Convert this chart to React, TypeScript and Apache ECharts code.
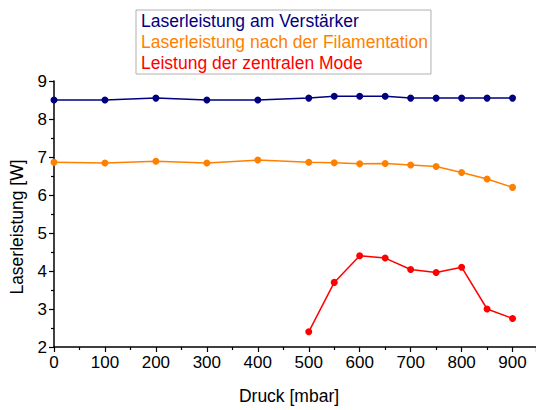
import React, { useEffect, useRef } from "react";
import * as echarts from "echarts";

// Pressure in mbar
const druck = [0, 100, 200, 300, 400, 500, 550, 600, 650, 700, 750, 800, 850, 900];
// Laser power at the amplifier [W]
const verstaerker = [8.5, 8.5, 8.55, 8.5, 8.5, 8.55, 8.6, 8.6, 8.6, 8.55, 8.55, 8.55, 8.55, 8.55];
// Laser power after filamentation [W]
const filamentation = [6.86, 6.84, 6.89, 6.84, 6.92, 6.86, 6.85, 6.82, 6.83, 6.79, 6.75, 6.59, 6.42, 6.2];
// Central mode power [W] (only measured from 500 mbar)
const druckMode = [500, 550, 600, 650, 700, 750, 800, 850, 900];
const zentraleMode = [2.4, 3.7, 4.4, 4.34, 4.04, 3.96, 4.1, 3.0, 2.75];

const seriesNames = [
  "Laserleistung am Verstärker",
  "Laserleistung nach der Filamentation",
  "Leistung der zentralen Mode",
];
const seriesColors = ["#000080", "#FF8000", "#FF0000"];

const FONT = "'Liberation Sans', Arial, sans-serif";

export default function App() {
  const ref = useRef<HTMLDivElement>(null);

  useEffect(() => {
    if (!ref.current) return;
    const chart = echarts.init(ref.current, undefined, { renderer: "svg" });
    const pair = (xs: number[], ys: number[]) => xs.map((x, i) => [x, ys[i]]);
    const dataSets = [
      pair(druck, verstaerker),
      pair(druck, filamentation),
      pair(druckMode, zentraleMode),
    ];

    chart.setOption({
      animation: false,
      backgroundColor: "#ffffff",
      textStyle: { fontFamily: FONT },
      grid: { left: 54, top: 81, width: 482, height: 273, containLabel: false },
      legend: {
        orient: "vertical",
        left: 136,
        top: 10,
        itemWidth: 0,
        itemHeight: 0,
        itemGap: 3,
        padding: [2, 3, 2, 0],
        borderColor: "#b0b0b0",
        borderWidth: 1,
        selectedMode: false,
        data: seriesNames.map((n, i) => ({
          name: n,
          icon: "rect",
          textStyle: { color: seriesColors[i], fontSize: 17.5, fontFamily: FONT },
        })),
      },
      xAxis: {
        type: "value",
        min: 0,
        max: 946,
        interval: 100,
        name: "Druck [mbar]",
        nameLocation: "middle",
        nameGap: 40,
        nameTextStyle: { fontSize: 17.5, color: "#000", fontFamily: FONT, padding: [0, 12, 0, 0] },
        axisLine: { onZero: false, lineStyle: { color: "#000", width: 1.5 } },
        axisTick: { inside: false, length: 5, lineStyle: { color: "#000", width: 1.2 } },
        minorTick: { show: true, splitNumber: 2, length: 3, lineStyle: { color: "#000", width: 1.2 } },
        axisLabel: { fontSize: 17, color: "#000", margin: 7, showMaxLabel: false, fontFamily: FONT },
        splitLine: { show: false },
      },
      yAxis: {
        type: "value",
        min: 2,
        max: 9,
        interval: 1,
        axisLine: { show: true, onZero: false, lineStyle: { color: "#000", width: 1.5 } },
        axisTick: { show: true, inside: false, length: 5, lineStyle: { color: "#000", width: 1.2 } },
        minorTick: { show: true, splitNumber: 2, length: 3, lineStyle: { color: "#000", width: 1.2 } },
        axisLabel: { fontSize: 17, color: "#000", margin: 7, fontFamily: FONT },
        splitLine: { show: false },
      },
      graphic: [
        {
          type: "text",
          x: 17,
          y: 227,
          rotation: Math.PI / 2,
          style: {
            text: "Laserleistung [W]",
            fontSize: 17.5,
            fontFamily: FONT,
            fill: "#000",
            align: "center",
            verticalAlign: "middle",
          },
        },
      ],
      series: dataSets.map((d, i) => ({
        name: seriesNames[i],
        type: "line",
        data: d,
        color: seriesColors[i],
        symbol: "circle",
        symbolSize: 7,
        lineStyle: { width: 1.5, color: seriesColors[i] },
        itemStyle: { color: seriesColors[i] },
        clip: false,
      })),
    });

    return () => chart.dispose();
  }, []);

  return (
    <div
      style={{
        position: "absolute",
        left: 0,
        top: 0,
        width: 536,
        height: 410,
        overflow: "hidden",
      }}
    >
      <div ref={ref} style={{ width: 536, height: 410 }} />
    </div>
  );
}
